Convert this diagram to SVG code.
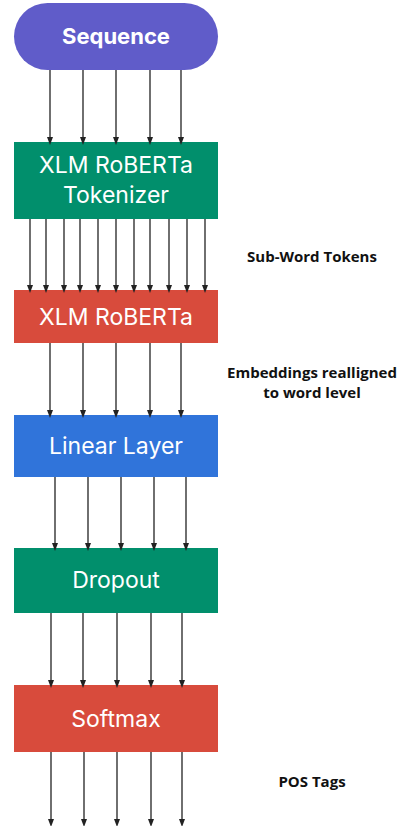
<svg xmlns="http://www.w3.org/2000/svg" width="401" height="826" viewBox="0 0 401 826">
<style>
.box{stroke:none}
.t{font-family:Inter,"Noto Sans",sans-serif;font-size:23px;fill:#fff;text-anchor:middle}
.lbl{font-family:"Open Sans","Noto Sans",sans-serif;font-weight:700;font-size:15px;fill:#111;text-anchor:middle}
.c line{stroke:#222;stroke-width:1.3;marker-end:url(#ah)}
</style>
<defs>
<marker id="ah" markerWidth="8" markerHeight="8" refX="4" refY="4" orient="auto" markerUnits="userSpaceOnUse" viewBox="0 0 8 8">
<path d="M0,1 L8,4 L0,7 z" fill="#222"/>
</marker>
</defs>
<rect width="401" height="826" fill="#fff"/>
<g id="sequence"><rect class="box" x="14" y="3" width="204" height="67" rx="33.5" fill="#605CC9"/><text class="t" x="116" y="44" style="font-weight:700;font-size:22px">Sequence</text></g>
<g id="tokenizer"><rect class="box" x="14" y="142" width="204" height="77" fill="#018F6C"/><text class="t" x="116" y="173">XLM RoBERTa</text><text class="t" x="116" y="203">Tokenizer</text></g>
<g id="roberta"><rect class="box" x="14" y="290" width="204" height="53" fill="#D84B3C"/><text class="t" x="116" y="325">XLM RoBERTa</text></g>
<g id="linear"><rect class="box" x="14" y="415" width="204" height="62" fill="#3074DA"/><text class="t" x="116" y="454">Linear Layer</text></g>
<g id="dropout"><rect class="box" x="14" y="548" width="204" height="65" fill="#018F6C"/><text class="t" x="116" y="588">Dropout</text></g>
<g id="softmax"><rect class="box" x="14" y="685" width="204" height="67" fill="#D84B3C"/><text class="t" x="116" y="727">Softmax</text></g>
<g id="labels">
<text class="lbl" x="312" y="262">Sub-Word Tokens</text>
<text class="lbl" x="312" y="378">Embeddings realligned</text>
<text class="lbl" x="312" y="398">to word level</text>
<text class="lbl" x="312" y="787">POS Tags</text>
</g>
<g class="c" id="connectors">
<line x1="50" y1="70" x2="50" y2="141"/><line x1="83" y1="70" x2="83" y2="141"/><line x1="116" y1="70" x2="116" y2="141"/><line x1="150" y1="70" x2="150" y2="141"/><line x1="181" y1="70" x2="181" y2="141"/>
<line x1="30" y1="219" x2="30" y2="289"/><line x1="46" y1="219" x2="46" y2="289"/><line x1="64" y1="219" x2="64" y2="289"/><line x1="80" y1="219" x2="80" y2="289"/><line x1="98" y1="219" x2="98" y2="289"/><line x1="116" y1="219" x2="116" y2="289"/><line x1="134" y1="219" x2="134" y2="289"/><line x1="150" y1="219" x2="150" y2="289"/><line x1="169" y1="219" x2="169" y2="289"/><line x1="187" y1="219" x2="187" y2="289"/><line x1="205" y1="219" x2="205" y2="289"/>
<line x1="50" y1="343" x2="50" y2="414"/><line x1="83" y1="343" x2="83" y2="414"/><line x1="116" y1="343" x2="116" y2="414"/><line x1="150" y1="343" x2="150" y2="414"/><line x1="181" y1="343" x2="181" y2="414"/>
<line x1="55" y1="477" x2="55" y2="547"/><line x1="88" y1="477" x2="88" y2="547"/><line x1="121" y1="477" x2="121" y2="547"/><line x1="154" y1="477" x2="154" y2="547"/><line x1="186" y1="477" x2="186" y2="547"/>
<line x1="51" y1="613" x2="51" y2="684"/><line x1="83" y1="613" x2="83" y2="684"/><line x1="117" y1="613" x2="117" y2="684"/><line x1="151" y1="613" x2="151" y2="684"/><line x1="182" y1="613" x2="182" y2="684"/>
<line x1="51" y1="752" x2="51" y2="823"/><line x1="84" y1="752" x2="84" y2="823"/><line x1="117" y1="752" x2="117" y2="823"/><line x1="151" y1="752" x2="151" y2="823"/><line x1="182" y1="752" x2="182" y2="823"/>
</g>
</svg>
